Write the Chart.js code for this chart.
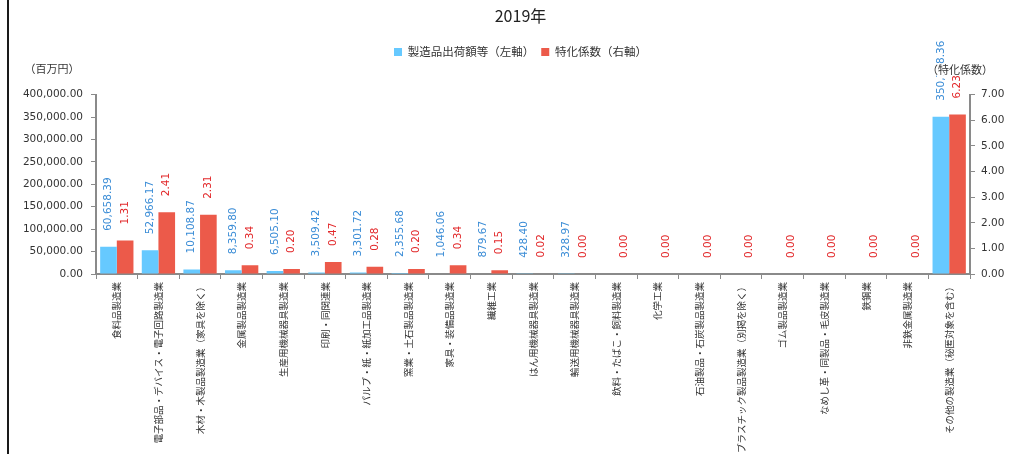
<!DOCTYPE html>
<html lang="ja">
<head>
<meta charset="utf-8">
<title>2019年</title>
<script src="https://cdn.jsdelivr.net/npm/chart.js@4.4.1/dist/chart.umd.min.js"></script>
<style>
  html, body { margin: 0; padding: 0; background: #fff; }
  #wrap { width: 1021px; height: 454px; }
</style>
</head>
<body>
<div id="wrap"><canvas id="chart" width="1021" height="454"></canvas></div>
<script>
const categories = [
    "食料品製造業",
    "電子部品・デバイス・電子回路製造業",
    "木材・木製品製造業（家具を除く）",
    "金属製品製造業",
    "生産用機械器具製造業",
    "印刷・同関連業",
    "パルプ・紙・紙加工品製造業",
    "窯業・土石製品製造業",
    "家具・装備品製造業",
    "繊維工業",
    "はん用機械器具製造業",
    "輸送用機械器具製造業",
    "飲料・たばこ・飼料製造業",
    "化学工業",
    "石油製品・石炭製品製造業",
    "プラスチック製品製造業（別掲を除く）",
    "ゴム製品製造業",
    "なめし革・同製品・毛皮製造業",
    "鉄鋼業",
    "非鉄金属製造業",
    "その他の製造業（秘匿対象を含む）"
];
// 製造品出荷額等（百万円） — blank where not published
const shipments = [60658.39, 52966.17, 10108.87, 8359.80, 6505.10, 3509.42, 3301.72, 2355.68, 1046.06, 879.67,
    428.40, 328.97, null, null, null, null, null, null, null, null, 350788.36];
// 特化係数
const coefficients = [1.31, 2.41, 2.31, 0.34, 0.20, 0.47, 0.28, 0.20, 0.34, 0.15,
    0.02, 0.00, 0.00, 0.00, 0.00, 0.00, 0.00, 0.00, 0.00, 0.00, 6.23];
const seriesNames = ["製造品出荷額等（左軸）", "特化係数（右軸）"];
const leftRange = [0, 400000, 50000];
const rightRange = [0, 7, 1];

const barColors = ["#66C9FF", "#EC5A4A"];
const labelColors = ["#3A8CD6", "#E2282A"];
const jp = '"Noto Sans CJK JP", "Noto Sans", sans-serif';
const num = '"DejaVu Sans", Verdana, sans-serif';

const fmt = v => v.toLocaleString("en-US", { minimumFractionDigits: 2, maximumFractionDigits: 2 });

// frame line on the left side
const frameLine = {
    id: "frameLine",
    beforeDraw(chart) {
        const ctx = chart.ctx;
        ctx.save();
        ctx.fillStyle = "#1a1a1a";
        ctx.fillRect(7, 0, 2, chart.height);
        ctx.restore();
    }
};

// rotated value labels above each bar
const valueLabels = {
    id: "valueLabels",
    afterDatasetsDraw(chart) {
        const ctx = chart.ctx;
        chart.data.datasets.forEach((ds, di) => {
            const meta = chart.getDatasetMeta(di);
            meta.data.forEach((bar, i) => {
                const v = ds.data[i];
                if (v === null || v === undefined) return;
                ctx.save();
                ctx.translate(bar.x, bar.y - 16);
                ctx.rotate(-Math.PI / 2);
                ctx.font = "10.5px " + num;
                ctx.fillStyle = labelColors[di];
                ctx.textAlign = "left";
                ctx.textBaseline = "middle";
                ctx.fillText(fmt(v), 0, 0);
                ctx.restore();
            });
        });
    }
};

// unit captions over each value axis
const axisCaptions = {
    id: "axisCaptions",
    afterDraw(chart) {
        const ctx = chart.ctx;
        const left = chart.scales.y, right = chart.scales.y1;
        ctx.save();
        ctx.font = "11px " + jp;
        ctx.textBaseline = "middle";
        ctx.textAlign = "center";
        ctx.fillStyle = "#333";
        ctx.fillText("（百万円）", left.left + 32, left.top - 26);
        const t = "（特化係数）";
        const w = ctx.measureText(t).width;
        const cx = right.left - 10, cy = right.top - 25;
        ctx.fillStyle = "#fff";
        ctx.fillRect(cx - w / 2 + 8, cy - 6, w - 16, 12);
        ctx.fillStyle = "#333";
        ctx.fillText(t, cx, cy);
        ctx.restore();
    }
};

const axisColor = "#8a8a8a";

new Chart(document.getElementById("chart"), {
    type: "bar",
    data: {
        labels: categories,
        datasets: [
            { label: seriesNames[0], data: shipments, backgroundColor: barColors[0], yAxisID: "y",
              categoryPercentage: 0.8, barPercentage: 1.0 },
            { label: seriesNames[1], data: coefficients, backgroundColor: barColors[1], yAxisID: "y1",
              categoryPercentage: 0.8, barPercentage: 1.0 }
        ]
    },
    options: {
        responsive: false,
        animation: false,
        layout: { padding: { left: 20, right: 0, top: 0, bottom: 0 } },
        plugins: {
            title: {
                display: true,
                text: "2019年",
                color: "#222",
                font: { family: jp, size: 16, weight: "normal" },
                padding: { top: 6, bottom: 14 }
            },
            subtitle: {
                display: true,
                text: "",
                weight: 500,
                font: { size: 10 },
                padding: { top: 0, bottom: 15 }
            },
            legend: {
                display: true,
                position: "top",
                labels: {
                    boxWidth: 8,
                    boxHeight: 8,
                    padding: 7,
                    color: "#333",
                    font: { family: jp, size: 11.5 }
                }
            },
            tooltip: { enabled: false }
        },
        scales: {
            x: {
                offset: true,
                grid: { display: true, drawOnChartArea: false, drawTicks: true, tickLength: 5, color: axisColor, offset: true },
                border: { display: true, color: axisColor, width: 2 },
                ticks: {
                    autoSkip: false,
                    minRotation: 90,
                    maxRotation: 90,
                    padding: 3,
                    color: "#333",
                    font: { family: jp, size: 9.5 }
                },
                afterFit(scale) { scale.height = 180; }
            },
            y: {
                position: "left",
                min: leftRange[0],
                max: leftRange[1],
                grid: { drawOnChartArea: false, tickLength: 5, color: axisColor },
                border: { display: true, color: axisColor, width: 2 },
                ticks: {
                    stepSize: leftRange[2],
                    padding: 8,
                    color: "#333",
                    font: { family: num, size: 10.5 },
                    callback: v => fmt(v)
                },
                afterFit(scale) { scale.width = 76; }
            },
            y1: {
                position: "right",
                min: rightRange[0],
                max: rightRange[1],
                grid: { drawOnChartArea: false, tickLength: 5, color: axisColor },
                border: { display: true, color: axisColor, width: 2 },
                ticks: {
                    stepSize: rightRange[2],
                    padding: 6,
                    color: "#333",
                    font: { family: num, size: 10.5 },
                    callback: v => fmt(v)
                },
                afterFit(scale) { scale.width = 51; }
            }
        }
    },
    plugins: [frameLine, valueLabels, axisCaptions]
});
</script>
</body>
</html>
